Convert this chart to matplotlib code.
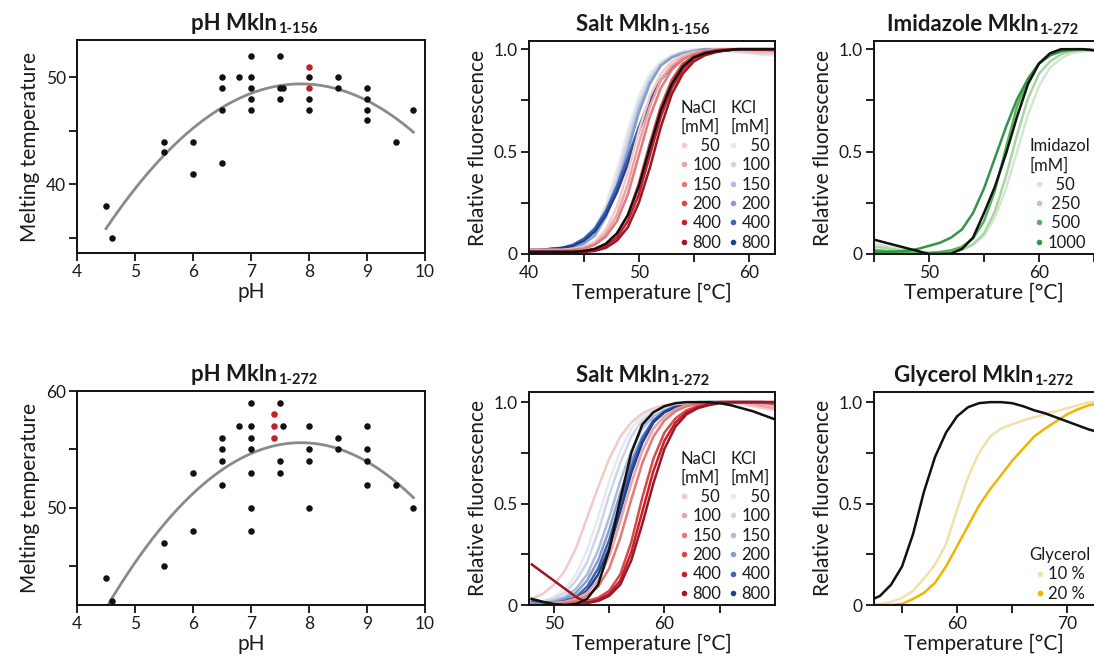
import numpy as np
import matplotlib.pyplot as plt
from matplotlib.lines import Line2D
from matplotlib.legend import Legend

plt.rcParams['font.family'] = ['Lato', 'DejaVu Sans']
plt.rcParams['text.color'] = '#1a1a1a'
plt.rcParams['axes.labelcolor'] = '#1a1a1a'

# ---------------- pH screens (melting temperature vs pH) ----------------
ph_156 = [4.5, 4.6, 5.5, 5.5, 6, 6, 6.5, 6.5, 6.5, 6.5, 6.8, 7, 7, 7, 7, 7,
          7.5, 7.5, 7.5, 7.55, 8, 8, 8, 8.5, 8.5, 9, 9, 9, 9, 9.5, 9.8]
tm_156 = [38, 35, 44, 43, 44, 41, 50, 49, 47, 42, 50, 52, 50, 49, 48, 47,
          52, 49, 48, 49, 50, 48, 47, 50, 49, 49, 48, 47, 46, 44, 47]
ph_156_red = [8, 8]
tm_156_red = [51, 49]

ph_272 = [4.5, 4.6, 5.5, 5.5, 6, 6, 6.5, 6.5, 6.5, 6.5, 6.8, 7, 7, 7, 7, 7, 7, 7,
          7.5, 7.5, 7.5, 7.55, 8, 8, 8, 8, 8.5, 8.5, 9, 9, 9, 9, 9.5, 9.8]
tm_272 = [44, 42, 47, 45, 53, 48, 56, 55, 54, 52, 57, 59, 57, 56, 55, 53, 50, 48,
          59, 54, 53, 57, 57, 55, 54, 50, 56, 55, 57, 55, 54, 52, 52, 50]
ph_272_red = [7.4, 7.4, 7.4]
tm_272_red = [58, 57, 56]

# ---------------- Salt screen, Mkln 1-156 ----------------
temp_s156 = list(range(40, 64))
kcl_156 = {
    '50': [0.02, 0.02, 0.02, 0.025, 0.04, 0.07, 0.13, 0.24, 0.41, 0.60, 0.77, 0.88, 0.94, 0.97, 0.99, 1.0, 1.0, 1.0, 0.99, 0.985, 0.98, 0.975, 0.97, 0.97],
    '100': [0.02, 0.02, 0.02, 0.025, 0.035, 0.065, 0.12, 0.22, 0.37, 0.56, 0.74, 0.86, 0.93, 0.965, 0.985, 0.995, 1.0, 1.0, 0.995, 0.99, 0.985, 0.98, 0.98, 0.98],
    '150': [0.02, 0.02, 0.02, 0.025, 0.035, 0.06, 0.11, 0.20, 0.34, 0.52, 0.71, 0.84, 0.92, 0.96, 0.98, 0.99, 1.0, 1.0, 1.0, 0.995, 0.99, 0.99, 0.985, 0.985],
    '200': [0.02, 0.02, 0.02, 0.02, 0.03, 0.05, 0.09, 0.18, 0.32, 0.50, 0.69, 0.83, 0.92, 0.96, 0.98, 0.99, 1.0, 1.0, 1.0, 1.0, 0.995, 0.99, 0.99, 0.99],
    '400': [0.02, 0.02, 0.025, 0.03, 0.045, 0.075, 0.125, 0.21, 0.33, 0.47, 0.62, 0.755, 0.85, 0.915, 0.955, 0.975, 0.985, 0.99, 0.995, 1.0, 1.0, 1.0, 1.0, 1.0],
    '800': [0.02, 0.02, 0.025, 0.03, 0.04, 0.065, 0.11, 0.19, 0.30, 0.44, 0.60, 0.74, 0.85, 0.915, 0.955, 0.975, 0.985, 0.99, 0.995, 1.0, 1.0, 1.0, 1.0, 1.0],
}
nacl_156 = {
    '50': [0.02, 0.02, 0.02, 0.02, 0.025, 0.035, 0.06, 0.12, 0.23, 0.40, 0.60, 0.77, 0.88, 0.94, 0.97, 0.985, 0.99, 1.0, 1.0, 0.995, 0.99, 0.985, 0.98, 0.98],
    '100': [0.02, 0.02, 0.02, 0.02, 0.02, 0.03, 0.05, 0.10, 0.19, 0.34, 0.54, 0.72, 0.85, 0.92, 0.96, 0.98, 0.99, 1.0, 1.0, 1.0, 0.995, 0.99, 0.99, 0.99],
    '150': [0.015, 0.015, 0.015, 0.015, 0.02, 0.025, 0.045, 0.085, 0.16, 0.29, 0.48, 0.67, 0.81, 0.90, 0.95, 0.975, 0.99, 0.995, 1.0, 1.0, 1.0, 1.0, 0.995, 0.995],
    '200': [0.01, 0.01, 0.01, 0.01, 0.01, 0.015, 0.025, 0.05, 0.10, 0.19, 0.345, 0.54, 0.72, 0.85, 0.93, 0.965, 0.985, 0.995, 1.0, 1.0, 1.0, 1.0, 1.0, 1.0],
    '400': [0.01, 0.01, 0.01, 0.01, 0.01, 0.012, 0.02, 0.04, 0.08, 0.16, 0.29, 0.48, 0.67, 0.81, 0.90, 0.955, 0.98, 0.99, 0.995, 1.0, 1.0, 1.0, 1.0, 1.0],
    '800': [0.01, 0.01, 0.01, 0.01, 0.01, 0.01, 0.015, 0.03, 0.065, 0.13, 0.25, 0.42, 0.62, 0.78, 0.88, 0.94, 0.97, 0.985, 0.995, 1.0, 1.0, 1.0, 1.0, 1.0],
}
ctrl_156 = [0.01, 0.01, 0.01, 0.01, 0.01, 0.015, 0.025, 0.05, 0.10, 0.19, 0.33, 0.52, 0.70, 0.83, 0.915, 0.96, 0.98, 0.99, 0.995, 1.0, 1.0, 1.0, 1.0, 1.0]

# ---------------- Salt screen, Mkln 1-272 ----------------
temp_s272 = list(range(48, 71))
kcl_272 = {
    '50': [0.01, 0.02, 0.04, 0.08, 0.15, 0.27, 0.43, 0.61, 0.76, 0.87, 0.93, 0.96, 0.98, 0.99, 1.0, 1.0, 1.0, 1.0, 1.0, 0.995, 0.99, 0.98, 0.97],
    '100': [0.01, 0.015, 0.03, 0.06, 0.12, 0.21, 0.36, 0.54, 0.70, 0.83, 0.91, 0.95, 0.975, 0.99, 0.995, 1.0, 1.0, 1.0, 1.0, 1.0, 0.995, 0.99, 0.98],
    '150': [0.01, 0.01, 0.02, 0.04, 0.08, 0.15, 0.27, 0.43, 0.61, 0.76, 0.87, 0.93, 0.96, 0.98, 0.99, 0.995, 1.0, 1.0, 1.0, 1.0, 1.0, 0.995, 0.99],
    '200': [0.01, 0.01, 0.015, 0.03, 0.06, 0.12, 0.22, 0.37, 0.55, 0.71, 0.83, 0.91, 0.95, 0.975, 0.99, 0.995, 1.0, 1.0, 1.0, 1.0, 1.0, 1.0, 0.995],
    '400': [0.02, 0.01, 0.01, 0.02, 0.04, 0.09, 0.18, 0.32, 0.50, 0.68, 0.82, 0.91, 0.955, 0.98, 0.99, 0.995, 1.0, 1.0, 1.0, 1.0, 1.0, 1.0, 1.0],
    '800': [0.03, 0.015, 0.005, 0.01, 0.03, 0.07, 0.15, 0.28, 0.46, 0.65, 0.80, 0.90, 0.95, 0.975, 0.99, 1.0, 1.0, 1.0, 1.0, 1.0, 1.0, 1.0, 0.99],
}
nacl_272 = {
    '50': [0.03, 0.055, 0.10, 0.17, 0.28, 0.43, 0.58, 0.72, 0.83, 0.90, 0.945, 0.97, 0.985, 0.99, 0.995, 1.0, 1.0, 1.0, 1.0, 0.99, 0.98, 0.97, 0.96],
    '100': [0.005, 0.005, 0.01, 0.015, 0.03, 0.06, 0.12, 0.24, 0.41, 0.60, 0.76, 0.87, 0.93, 0.965, 0.985, 0.995, 1.0, 1.0, 1.0, 1.0, 0.99, 0.98, 0.97],
    '150': [0.0, 0.0, 0.0, 0.01, 0.02, 0.045, 0.09, 0.18, 0.33, 0.52, 0.70, 0.83, 0.91, 0.955, 0.98, 0.99, 1.0, 1.0, 1.0, 1.0, 1.0, 0.995, 0.99],
    '200': [0.0, 0.0, 0.0, 0.0, 0.01, 0.02, 0.035, 0.07, 0.15, 0.31, 0.53, 0.72, 0.85, 0.92, 0.96, 0.98, 0.99, 1.0, 1.0, 1.0, 1.0, 1.0, 0.99],
    '400': [0.0, 0.0, 0.0, 0.0, 0.0, 0.01, 0.025, 0.055, 0.12, 0.26, 0.46, 0.66, 0.81, 0.90, 0.95, 0.975, 0.99, 1.0, 1.0, 1.0, 1.0, 1.0, 1.0],
    '800': [0.2, 0.16, 0.12, 0.08, 0.04, 0.01, 0.02, 0.045, 0.10, 0.22, 0.40, 0.60, 0.77, 0.88, 0.94, 0.97, 0.985, 0.995, 1.0, 1.0, 1.0, 1.0, 1.0],
}
ctrl_272 = [0.03, 0.015, 0.005, 0.0, 0.005, 0.03, 0.10, 0.27, 0.52, 0.75, 0.89, 0.95, 0.98, 0.995, 1.0, 1.0, 1.0, 0.995, 0.985, 0.97, 0.955, 0.935, 0.915]

# ---------------- Imidazole screen, Mkln 1-272 ----------------
temp_imid = list(range(45, 66))
imid = {
    '50': [0.05, 0.04, 0.03, 0.02, 0.012, 0.008, 0.006, 0.01, 0.021, 0.044, 0.09, 0.18, 0.32, 0.50, 0.68, 0.82, 0.91, 0.955, 0.98, 0.99, 0.995],
    '250': [0.035, 0.03, 0.02, 0.015, 0.01, 0.005, 0.005, 0.01, 0.021, 0.047, 0.10, 0.21, 0.38, 0.58, 0.76, 0.88, 0.94, 0.975, 0.99, 0.995, 0.995],
    '500': [0.02, 0.015, 0.01, 0.005, 0.003, 0.005, 0.01, 0.018, 0.035, 0.075, 0.16, 0.31, 0.52, 0.72, 0.855, 0.93, 0.97, 0.99, 0.995, 1.0, 0.995],
    '1000': [0.01, 0.01, 0.012, 0.015, 0.025, 0.04, 0.055, 0.08, 0.12, 0.20, 0.32, 0.47, 0.62, 0.755, 0.855, 0.93, 0.97, 0.99, 1.0, 1.0, 0.995],
}
ctrl_imid = [0.07, 0.056, 0.042, 0.028, 0.014, 0.0, 0.0, 0.002, 0.025, 0.08, 0.2, 0.33, 0.49, 0.67, 0.83, 0.93, 0.98, 1.0, 1.0, 1.0, 0.995]

# ---------------- Glycerol screen, Mkln 1-272 ----------------
temp_gly = list(range(52, 74))
gly = {
    '10 %': [0.0, 0.005, 0.015, 0.035, 0.07, 0.13, 0.2, 0.3, 0.47, 0.63, 0.75, 0.83, 0.87, 0.89, 0.91, 0.925, 0.94, 0.955, 0.97, 0.985, 1.0, 1.0],
    '20 %': [0.0, 0.0, 0.0, 0.005, 0.03, 0.06, 0.11, 0.19, 0.29, 0.39, 0.49, 0.57, 0.64, 0.71, 0.77, 0.83, 0.87, 0.905, 0.94, 0.965, 0.985, 0.995],
}
ctrl_gly = [0.02, 0.045, 0.10, 0.19, 0.35, 0.56, 0.73, 0.85, 0.93, 0.975, 0.995, 1.0, 1.0, 0.995, 0.98, 0.96, 0.945, 0.925, 0.905, 0.885, 0.865, 0.85]

nacl_colors = ['#f3c9c9', '#eca4a4', '#e27a7a', '#d64a4a', '#c41f2b', '#9e1624']
kcl_colors = ['#e5e9f2', '#cdd5e7', '#aebbdb', '#879dcc', '#3e64b4', '#1f418f']
imid_colors = ['#d4e7d1', '#a9d4a4', '#58b45a', '#349447']
gly_colors = ['#f1e1a6', '#f1b400']
salt_labels = ['  50', '100', '150', '200', '400', '800']
imid_labels = ['  50', ' 250', ' 500', '1000']

TICK_FS = 12.5
LABEL_FS = 15

fig = plt.figure(figsize=(10.94, 6.62), dpi=100)
W, H = 1094, 662


def add_axes(left, top, right, bottom):
    return fig.add_axes([left / W, 1 - bottom / H, (right - left) / W, (bottom - top) / H])


def style(ax):
    for sp in ax.spines.values():
        sp.set_linewidth(1.4)
        sp.set_color('#111111')
    ax.tick_params(which='both', direction='out', length=6, width=1.3,
                   labelsize=TICK_FS, colors='#111111', labelcolor='#1a1a1a', pad=2)


def title(ax, main, sub, x):
    t = ax.set_title(main, x=x, fontsize=16, fontweight='bold', pad=7)
    ax.annotate(sub, xy=(1, 0), xycoords=t, xytext=(0.5, 1), textcoords='offset points',
                fontsize=10.5, fontweight='bold', ha='left', va='baseline')


def ph_panel(ax, ph, tm, ph_red, tm_red, ylim, major, minor, main, sub):
    all_ph = ph + ph_red
    all_tm = tm + tm_red
    coef = np.polyfit(all_ph, all_tm, 2)
    xx = np.linspace(min(all_ph), max(all_ph), 200)
    ax.plot(xx, np.polyval(coef, xx), color='#8a8a8a', lw=2, zorder=2)
    ax.scatter(ph, tm, s=22, color='#111111', zorder=3, clip_on=False, linewidths=0)
    ax.scatter(ph_red, tm_red, s=22, color='#c0202a', zorder=3, linewidths=0)
    ax.set_xlim(4, 10)
    ax.set_ylim(*ylim)
    ax.set_xticks(range(4, 11))
    ax.set_yticks(major)
    ax.set_yticks(minor, minor=True)
    style(ax)
    ax.set_xlabel('pH', fontsize=LABEL_FS, labelpad=1)
    ax.set_ylabel('Melting temperature', fontsize=LABEL_FS, labelpad=4)
    title(ax, main, sub, 0.451)


def curve_axes(ax, xlim, ytop, major, minor):
    ax.set_xlim(*xlim)
    ax.set_ylim(0, ytop)
    ax.set_xticks(major)
    ax.set_xticks(minor, minor=True)
    ax.set_yticks([0, 0.5, 1.0])
    ax.set_yticklabels(['0', '0.5', '1.0'])
    ax.set_yticks([0.25, 0.75], minor=True)
    style(ax)
    ax.set_xlabel('Temperature [°C]', fontsize=LABEL_FS, labelpad=1)
    ax.set_ylabel('Relative fluorescence', fontsize=LABEL_FS, labelpad=4)


def dot_legend(ax, colors, labels, ttl, anchor, loc='lower left'):
    handles = [Line2D([], [], marker='o', ls='none', ms=3.0, color=c) for c in colors]
    leg = Legend(ax, handles, labels, title=ttl, loc=loc, bbox_to_anchor=anchor,
                 frameon=False, fontsize=12, title_fontsize=12, handlelength=0.5,
                 handletextpad=0.25, labelspacing=0.2, borderpad=0.1, borderaxespad=0.1)
    ax.add_artist(leg)
    return leg


def salt_panel(ax, temp, kcl, nacl, ctrl, xlim, ytop, major, minor, main, sub):
    for c, key in zip(kcl_colors, kcl):
        ax.plot(temp, kcl[key], color=c, lw=1.8)
    for c, key in zip(nacl_colors, nacl):
        ax.plot(temp, nacl[key], color=c, lw=1.8)
    ax.plot(temp, ctrl, color='#111111', lw=1.8)
    curve_axes(ax, xlim, ytop, major, minor)
    dot_legend(ax, nacl_colors, salt_labels, 'NaCl\n[mM]', (0.60, 0.0))
    dot_legend(ax, kcl_colors, salt_labels, 'KCl\n[mM]', (0.80, 0.0))
    title(ax, main, sub, 0.382)


# pH panels
ax1 = add_axes(77, 40, 425, 253)
ph_panel(ax1, ph_156, tm_156, ph_156_red, tm_156_red, (33.6, 53.5), [40, 50], [35, 45],
         'pH Mkln', '1-156')
ax4 = add_axes(77, 391, 425, 605)
ph_panel(ax4, ph_272, tm_272, ph_272_red, tm_272_red, (41.7, 60), [50, 60], [45, 55],
         'pH Mkln', '1-272')

# salt panels
ax2 = add_axes(529, 41, 775, 254)
salt_panel(ax2, temp_s156, kcl_156, nacl_156, ctrl_156, (40, 62.4), 1.04,
           [40, 50, 60], [45, 55], 'Salt Mkln', '1-156')
ax5 = add_axes(529, 392, 775, 605)
salt_panel(ax5, temp_s272, kcl_272, nacl_272, ctrl_272, (47.75, 70), 1.05,
           [50, 60], [55, 65], 'Salt Mkln', '1-272')

# imidazole panel
ax3 = add_axes(874, 41, 1094, 254)
for c, key in zip(imid_colors, imid):
    ax3.plot(temp_imid, imid[key], color=c, lw=1.8)
ax3.plot(temp_imid, ctrl_imid, color='#111111', lw=1.8)
curve_axes(ax3, (45, 65), 1.04, [50, 60], [45, 55, 65])
ax3.spines['right'].set_visible(False)
dot_legend(ax3, imid_colors, imid_labels, 'Imidazol\n[mM]', (1.0, 0.0), loc='lower right')
title(ax3, 'Imidazole Mkln', '1-272', 0.402)

# glycerol panel
ax6 = add_axes(874, 392, 1094, 605)
for c, key in zip(gly_colors, gly):
    ax6.plot(temp_gly, gly[key], color=c, lw=1.8)
ax6.plot(temp_gly, ctrl_gly, color='#111111', lw=1.8)
curve_axes(ax6, (52.45, 72.45), 1.05, [60, 70], [55, 65])
ax6.spines['right'].set_visible(False)
dot_legend(ax6, gly_colors, list(gly.keys()), 'Glycerol', (1.0, 0.0), loc='lower right')
title(ax6, 'Glycerol Mkln', '1-272', 0.407)

fig.savefig('out.png', dpi=100)
